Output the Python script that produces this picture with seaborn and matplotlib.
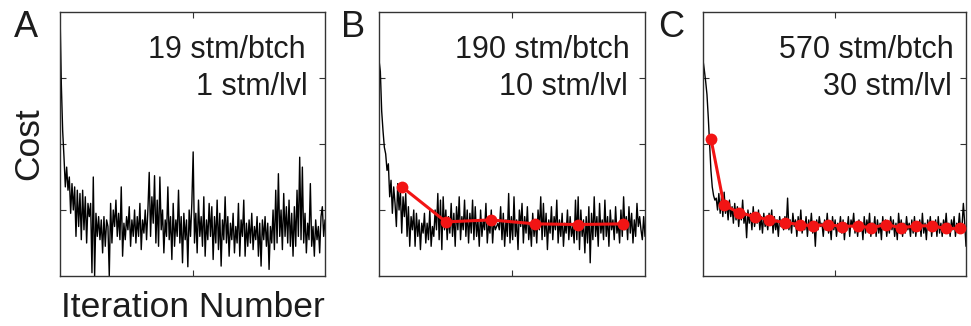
import numpy as np
import pandas as pd
import matplotlib
matplotlib.use("Agg")
import matplotlib.pyplot as plt
import seaborn as sns

# ---------------- data ----------------
panel_letters = ["A", "B", "C"]
batch_labels = ["19 stm/btch", "190 stm/btch", "570 stm/btch"]
level_labels = ["1 stm/lvl", "10 stm/lvl", "30 stm/lvl"]

cost_a = [
    4.0, 2.9, 2.2, 1.8, 1.35, 1.65, 1.3, 1.5, 0.95, 1.4, 1.0, 1.35, 0.6, 1.3, 0.75, 1.25, 0.55, 1.3, 0.7, 1.2,
    0.5, 1.1, 0.9, 1.1, 0.05, 1.5, 0.0, 0.95, 0.6, 0.9, 0.55, 0.85, 0.35, 0.9, 0.45, 0.85, 0.75, 0.0, 1.1, 0.5,
    1.0, 0.75, 1.15, 0.6, 0.95, 0.55, 1.35, 0.3, 0.8, 0.55, 0.9, 0.7, 1.05, 0.45, 0.85, 0.6, 1.0, 0.5, 0.9, 0.6,
    1.1, 0.4, 0.85, 0.65, 1.0, 0.55, 1.0, 1.57, 0.6, 1.2, 0.8, 1.52, 0.5, 1.15, 0.45, 1.5, 0.7, 1.0, 0.35, 0.85,
    0.6, 1.35, 0.55, 0.9, 0.25, 1.1, 0.45, 0.85, 0.6, 1.3, 0.5, 0.9, 0.2, 0.95, 0.55, 0.85, 0.14, 1.0, 0.6, 1.1,
    1.88, 0.5, 0.95, 0.35, 1.15, 0.6, 0.9, 0.45, 1.2, 0.3, 0.85, 0.55, 1.1, 0.6, 1.05, 0.25, 0.9, 0.5, 1.15, 0.4,
    0.95, 0.15, 0.85, 0.55, 1.2, 0.5, 0.9, 0.3, 0.8, 0.55, 0.95, 0.35, 0.75, 0.5, 1.1, 0.3, 0.85, 0.6, 1.15, 0.3,
    0.8, 0.45, 0.85, 0.5, 0.95, 0.4, 0.75, 0.55, 0.9, 0.3, 0.8, 0.15, 0.85, 0.55, 0.9, 0.45, 0.8, 0.1, 0.75, 0.5,
    1.0, 0.4, 1.3, 0.5, 1.55, 0.6, 1.0, 0.4, 1.25, 0.6, 1.05, 0.5, 1.15, 0.45, 0.95, 0.3, 1.05, 0.45, 1.3, 0.6,
    1.8, 0.55, 1.65, 0.5, 0.95, 0.35, 0.8, 0.55, 1.4, 0.45, 0.75, 0.3, 0.85, 0.55, 0.75, 0.35, 0.9, 1.05, 0.6, 0.85,
]

cost_b = [
    3.27, 3.1, 2.5, 2.2, 1.95, 1.85, 1.6, 1.7, 1.2, 1.45, 0.95, 1.35, 1.1, 0.75, 1.4, 1.0, 1.3, 0.65, 1.2, 0.9,
    1.25, 0.6, 1.05, 0.45, 0.9, 0.7, 1.0, 0.45, 0.95, 0.6, 0.85, 0.4, 0.8, 0.65, 0.95, 0.5, 0.8, 0.55, 1.0, 0.45,
    0.75, 0.6, 1.0, 0.7, 1.25, 0.55, 1.15, 0.4, 1.2, 0.7, 1.0, 0.55, 0.9, 0.65, 1.1, 0.6, 0.95, 0.45, 1.05, 0.7,
    1.2, 0.55, 0.9, 0.7, 1.15, 0.6, 1.0, 0.5, 0.95, 0.65, 1.15, 0.55, 1.05, 0.6, 0.85, 0.45, 1.0, 0.6, 0.85, 0.7,
    1.1, 0.5, 0.8, 0.65, 1.0, 0.5, 0.85, 0.7, 0.75, 0.8, 0.7, 1.05, 0.55, 0.95, 0.45, 0.85, 0.6, 1.25, 0.5, 0.9,
    0.55, 1.2, 0.6, 0.85, 0.4, 1.0, 0.75, 1.1, 0.5, 0.9, 0.65, 1.05, 0.55, 0.8, 0.45, 0.95, 0.6, 0.85, 0.5, 1.0,
    0.7, 1.2, 0.55, 1.1, 0.6, 0.95, 0.4, 0.85, 0.65, 1.05, 0.55, 0.9, 0.7, 1.15, 0.5, 0.85, 0.6, 0.95, 0.45, 0.8,
    0.65, 1.0, 0.55, 0.9, 0.6, 0.75, 0.5, 1.15, 0.55, 1.2, 0.4, 1.0, 0.6, 0.85, 0.35, 0.9, 0.5, 1.05, 0.2, 0.95,
    0.55, 1.2, 0.6, 0.9, 0.45, 1.1, 0.65, 0.85, 0.55, 1.15, 0.6, 0.9, 0.45, 1.0, 0.7, 0.85, 0.55, 1.05, 0.65, 0.8,
    0.5, 1.0, 0.6, 1.2, 0.7, 0.9, 0.55, 1.05, 0.65, 0.95, 0.5, 0.85, 0.6, 1.1, 0.75, 0.9, 0.7, 0.55, 0.9, 0.6,
]

cost_c = [
    3.27, 3.12, 2.95, 2.75, 2.4, 2.0, 1.6, 1.35, 1.22, 1.15, 1.18, 1.0, 1.25, 0.95, 1.2, 0.9, 1.27, 0.95, 1.1, 0.85,
    1.15, 0.9, 1.05, 0.8, 1.1, 0.85, 1.05, 0.75, 1.0, 0.85, 1.15, 0.8, 0.95, 0.58, 1.0, 0.8, 0.95, 0.7, 1.05, 0.75,
    0.9, 0.8, 1.0, 0.7, 0.9, 0.65, 0.95, 0.75, 0.85, 0.7, 0.95, 0.8, 1.0, 0.65, 0.9, 0.7, 0.85, 0.6, 0.9, 0.75,
    0.8, 0.7, 0.9, 0.75, 1.18, 0.7, 0.85, 0.65, 0.95, 0.75, 0.85, 0.6, 0.9, 0.7, 1.0, 0.65, 0.8, 0.7, 0.9, 0.6,
    0.85, 0.7, 0.95, 0.65, 0.8, 0.45, 0.85, 0.7, 0.9, 0.75, 0.8, 0.6, 0.85, 0.7, 0.95, 0.65, 0.8, 0.55, 0.9, 0.7,
    0.85, 0.6, 0.8, 0.7, 0.9, 0.65, 0.85, 0.55, 0.8, 0.7, 0.9, 0.6, 0.85, 0.75, 0.95, 0.65, 0.8, 0.6, 0.85, 0.7,
    0.8, 0.55, 0.9, 0.65, 0.85, 0.7, 0.95, 0.6, 0.8, 0.7, 0.9, 0.6, 0.85, 0.65, 0.8, 0.55, 0.9, 0.7, 0.85, 0.6,
    0.8, 0.65, 0.9, 0.7, 0.85, 0.6, 0.8, 0.55, 0.95, 0.7, 0.85, 0.6, 0.8, 0.65, 0.9, 0.7, 0.8, 0.6, 0.85, 0.65,
    0.9, 0.6, 0.8, 0.7, 0.85, 0.6, 0.95, 0.65, 0.8, 0.55, 0.85, 0.7, 0.9, 0.6, 0.8, 0.7, 0.85, 0.6, 0.9, 0.65,
    0.8, 0.6, 0.85, 0.7, 0.95, 0.65, 0.8, 0.6, 0.85, 0.7, 0.9, 0.6, 0.8, 0.7, 0.95, 0.65, 0.75, 1.1, 0.8, 0.45,
]

level_iter_b = [17.2, 50.1, 83.8, 116.7, 148.9, 182.6]
level_cost_b = [1.35, 0.82, 0.85, 0.79, 0.78, 0.79]

level_iter_c = [6.1, 15.9, 27.5, 39.1, 50.2, 61.8, 73.4, 83.2, 94.8, 105.4,
                117.3, 127.1, 138.7, 149.8, 161.4, 173.0, 184.1, 194.2]
level_cost_c = [2.07, 1.07, 0.96, 0.90, 0.85, 0.81, 0.78, 0.76, 0.78, 0.75,
                0.76, 0.73, 0.78, 0.73, 0.76, 0.76, 0.72, 0.72]

# ---------------- figure ----------------
sns.set_theme(style="white")
plt.rcParams["font.family"] = ["Liberation Sans", "DejaVu Sans"]

W, H = 971, 326
fig = plt.figure(figsize=(W / 100, H / 100), dpi=100)

def px_rect(x0, x1, y0, y1):
    return [x0 / W, 1 - y1 / H, (x1 - x0) / W, (y1 - y0) / H]

axes_px = [(60, 325, 12, 276), (379, 645, 12, 276), (703, 966, 12, 276)]
costs = [cost_a, cost_b, cost_c]
levels = [None, (level_iter_b, level_cost_b), (level_iter_c, level_cost_c)]
text_right = [(0.928, 0.935), (0.944, 0.936), (0.955, 0.945)]
letter_px = [(14, 37), (341, 37), (658, 37)]
txt_color = "#1c1c1c"

for k in range(3):
    ax = fig.add_axes(px_rect(*axes_px[k]))
    df = pd.DataFrame({"iter": np.arange(len(costs[k])), "cost": costs[k]})
    sns.lineplot(data=df, x="iter", y="cost", ax=ax, color="black", lw=1.0)
    if levels[k] is not None:
        ldf = pd.DataFrame({"iter": levels[k][0], "cost": levels[k][1]})
        sns.lineplot(data=ldf, x="iter", y="cost", ax=ax, color="#f21414", lw=2.2,
                     marker="o", markersize=8.5, markeredgewidth=0, zorder=5)
    ax.set_xlim(0, len(costs[k]) - 1)
    ax.set_ylim(0, 4)
    ax.set_xticks([(len(costs[k]) - 1) / 2])
    ax.set_yticks([1, 2, 3])
    ax.set_xticklabels([])
    ax.set_yticklabels([])
    ax.set_xlabel("")
    ax.set_ylabel("")
    ax.tick_params(direction="in", top=True, right=True, length=4, width=0.8,
                   color="#333333", bottom=True, left=True)
    for sp in ax.spines.values():
        sp.set_visible(True)
        sp.set_color("#333333")
        sp.set_linewidth(1.0)
    ax.text(text_right[k][0], 0.826, batch_labels[k], transform=ax.transAxes,
            ha="right", va="baseline", fontsize=22, color=txt_color)
    ax.text(text_right[k][1], 0.686, level_labels[k], transform=ax.transAxes,
            ha="right", va="baseline", fontsize=22, color=txt_color)
    lx, ly = letter_px[k]
    fig.text(lx / W, 1 - ly / H, panel_letters[k], ha="left", va="baseline",
             fontsize=26, color=txt_color)

fig.text(192.5 / W, 1 - 317 / H, "Iteration Number", ha="center", va="baseline",
         fontsize=25.5, color=txt_color)
fig.text(45 / W, 1 - 143.5 / H, "Cost", rotation=90, ha="right", va="center",
         fontsize=25.5, color=txt_color)

fig.savefig("out.png", dpi=100)
